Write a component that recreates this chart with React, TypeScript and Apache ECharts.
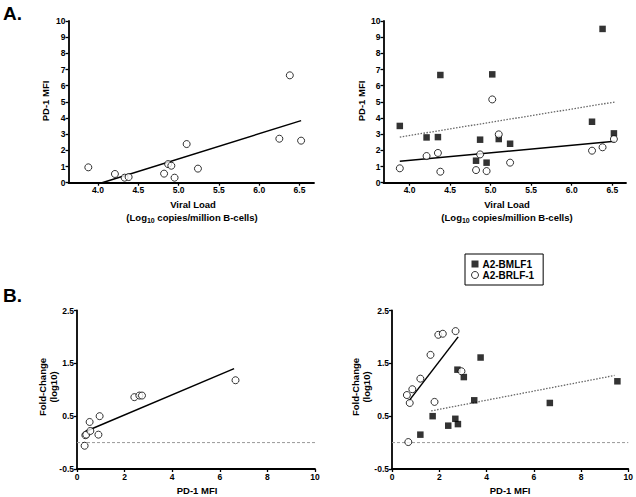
import React, { useEffect, useRef } from "react";
import * as echarts from "echarts";

// ---------- data ----------
const viralTicks = [4.0, 4.5, 5.0, 5.5, 6.0, 6.5];

// Panel A left: PD-1 MFI vs viral load
const aLeftX = [3.88, 4.21, 4.33, 4.38, 4.82, 4.87, 4.91, 4.95, 5.10, 5.24, 6.25, 6.38, 6.52];
const aLeftY = [0.95, 0.54, 0.31, 0.35, 0.56, 1.15, 1.05, 0.31, 2.39, 0.87, 2.72, 6.64, 2.60];
const aLeftFit = [[4.05, 0], [6.52, 3.84]];

// Panel A right
const aRightX = [3.88, 4.21, 4.35, 4.38, 4.82, 4.87, 4.95, 5.02, 5.10, 5.24, 6.25, 6.38, 6.52];
const aRightBMLF = [3.51, 2.80, 2.82, 6.66, 1.36, 2.66, 1.24, 6.70, 2.70, 2.41, 3.77, 9.51, 3.05];
const aRightBRLF = [0.89, 1.65, 1.84, 0.68, 0.78, 1.75, 0.72, 5.15, 2.99, 1.24, 1.98, 2.19, 2.70];
const aRightFitBRLF = [[3.88, 1.32], [6.53, 2.56]];
const aRightFitBMLF = [[3.88, 2.82], [6.53, 4.99]];

// Panel B left: fold-change vs PD-1 MFI
const bLeftX = [0.32, 0.35, 0.39, 0.53, 0.56, 0.90, 0.95, 2.41, 2.62, 2.73, 6.66];
const bLeftY = [-0.06, 0.14, 0.15, 0.39, 0.22, 0.15, 0.50, 0.86, 0.89, 0.89, 1.18];
const bLeftFit = [[0.35, 0.21], [6.6, 1.40]];

// Panel B right
const bRightBRLFX = [0.63, 0.69, 0.75, 0.86, 1.20, 1.63, 1.80, 1.96, 2.15, 2.69, 2.94];
const bRightBRLFY = [0.90, 0.01, 0.75, 1.01, 1.21, 1.66, 0.77, 2.04, 2.06, 2.11, 1.35];
const bRightBMLFX = [1.20, 1.72, 2.38, 2.68, 2.79, 2.77, 3.04, 3.48, 3.75, 6.68, 9.54];
const bRightBMLFY = [0.15, 0.50, 0.32, 0.45, 0.35, 1.38, 1.24, 0.80, 1.61, 0.75, 1.16];
const bRightFitBRLF = [[0.70, 0.78], [2.80, 2.0]];
const bRightFitBMLF = [[1.66, 0.60], [9.42, 1.27]];

const zeroLine = [[0, 0], [10, 0]];

const legendNames = ["A2-BMLF1", "A2-BRLF-1"];

// ---------- helpers ----------
const FONT = '"Liberation Sans", Arial, Helvetica, sans-serif';
const zip = (xs: number[], ys: number[]) => xs.map((x, i) => [x, ys[i]]);

const axisCommon = {
  axisLine: { show: true, onZero: false, lineStyle: { color: "#000", width: 1.8 } },
  axisTick: { show: true, inside: false, length: 3, lineStyle: { color: "#000", width: 1.3 } },
  splitLine: { show: false },
  axisLabel: { color: "#000", fontFamily: FONT, fontWeight: "bold", fontSize: 8.5, margin: 3 },
};

const viralXAxis = (gridIndex: number, min: number, max: number) => ({
  type: "value",
  gridIndex,
  min,
  max,
  ...axisCommon,
  axisTick: { ...axisCommon.axisTick, customValues: viralTicks },
  axisLabel: {
    ...axisCommon.axisLabel,
    customValues: viralTicks,
    formatter: (v: number) => v.toFixed(1),
  },
});

const mfiYAxis = (gridIndex: number) => ({
  type: "value",
  gridIndex,
  min: 0,
  max: 10,
  interval: 1,
  ...axisCommon,
});

const mfiXAxis = (gridIndex: number) => ({
  type: "value",
  gridIndex,
  min: 0,
  max: 10,
  interval: 2,
  ...axisCommon,
});

const foldYAxis = (gridIndex: number) => ({
  type: "value",
  gridIndex,
  min: -0.5,
  max: 2.5,
  interval: 1,
  ...axisCommon,
  axisLabel: { ...axisCommon.axisLabel, formatter: (v: number) => v.toFixed(1) },
});

const circleSeries = (name: string, idx: number, data: number[][]) => ({
  type: "scatter",
  name,
  xAxisIndex: idx,
  yAxisIndex: idx,
  data,
  symbol: "circle",
  symbolSize: 7,
  itemStyle: { color: "#fff", borderColor: "#000", borderWidth: 1 },
  z: 5,
  silent: true,
});

const squareSeries = (name: string, idx: number, data: number[][]) => ({
  type: "scatter",
  name,
  xAxisIndex: idx,
  yAxisIndex: idx,
  data,
  symbol: "rect",
  symbolSize: 6.5,
  itemStyle: { color: "#000" },
  z: 5,
  silent: true,
});

const lineSeries = (name: string, idx: number, data: number[][], style: any) => ({
  type: "line",
  name,
  xAxisIndex: idx,
  yAxisIndex: idx,
  data,
  symbol: "none",
  lineStyle: style,
  z: 3,
  silent: true,
});

const solid = { color: "#000", width: 1.5, type: "solid" };
const dotted = { color: "#666", width: 1.3, type: [1.5, 1.5] };
const zeroStyle = { color: "#999", width: 1, type: [3, 2] };

const titleText = (text: string, x: number, y: number, extra: any = {}) => ({
  type: "text",
  x,
  y,
  silent: true,
  style: {
    text,
    fill: "#000",
    fontFamily: FONT,
    fontWeight: "bold",
    fontSize: 9.5,
    align: "center",
    verticalAlign: "middle",
    ...extra,
  },
});

const rotText = (text: string, x: number, y: number) => ({
  ...titleText(text, x, y, { lineHeight: 11 }),
  rotation: Math.PI / 2,
});

const logLine = (x: number, y: number) =>
  titleText("(Log{s|10} copies/million B-cells)", x, y, {
    rich: {
      s: { fontSize: 7, fontWeight: "bold", fontFamily: FONT, padding: [6, 0, 0, 0] },
    },
  });

export default function App() {
  const ref = useRef<HTMLDivElement>(null);

  useEffect(() => {
    if (!ref.current) return;
    const chart = echarts.init(ref.current, undefined, { renderer: "svg" });
    const option: any = {
      animation: false,
      backgroundColor: "#fff",
      textStyle: { fontFamily: FONT },
      grid: [
        { left: 68.5, top: 21, width: 245.5, height: 161.7 },
        { left: 383.5, top: 21, width: 242.5, height: 161.7 },
        { left: 77, top: 310.5, width: 238, height: 158.5 },
        { left: 392, top: 310.5, width: 237, height: 158.5 },
      ],
      xAxis: [
        viralXAxis(0, 3.634, 6.68),
        viralXAxis(1, 3.679, 6.669),
        mfiXAxis(2),
        mfiXAxis(3),
      ],
      yAxis: [mfiYAxis(0), mfiYAxis(1), foldYAxis(2), foldYAxis(3)],
      legend: {
        left: 465,
        top: 254,
        orient: "vertical",
        borderColor: "#000",
        borderWidth: 1,
        padding: [5, 9, 5, 6],
        itemWidth: 7,
        itemHeight: 7,
        itemGap: 1,
        selectedMode: false,
        textStyle: { color: "#000", fontFamily: FONT, fontWeight: "bold", fontSize: 10, lineHeight: 10, padding: [0, 0, 0, -1] },
        data: [
          { name: legendNames[0], icon: "rect", itemStyle: { color: "#000" } },
          {
            name: legendNames[1],
            icon: "circle",
            itemStyle: { color: "#fff", borderColor: "#000", borderWidth: 1 },
          },
        ],
      },
      series: [
        lineSeries("fitA", 0, aLeftFit, solid),
        circleSeries("All", 0, zip(aLeftX, aLeftY)),

        lineSeries("fitA-BRLF", 1, aRightFitBRLF, solid),
        lineSeries("fitA-BMLF", 1, aRightFitBMLF, dotted),
        squareSeries(legendNames[0], 1, zip(aRightX, aRightBMLF)),
        circleSeries(legendNames[1], 1, zip(aRightX, aRightBRLF)),

        lineSeries("zeroB", 2, zeroLine, zeroStyle),
        lineSeries("fitB", 2, bLeftFit, solid),
        circleSeries("AllB", 2, zip(bLeftX, bLeftY)),

        lineSeries("zeroB2", 3, zeroLine, zeroStyle),
        lineSeries("fitB-BRLF", 3, bRightFitBRLF, solid),
        lineSeries("fitB-BMLF", 3, bRightFitBMLF, dotted),
        squareSeries(legendNames[0], 3, zip(bRightBMLFX, bRightBMLFY)),
        circleSeries(legendNames[1], 3, zip(bRightBRLFX, bRightBRLFY)),
      ],
      graphic: [
        titleText("A.", 3, 13, { align: "left", fontSize: 19 }),
        titleText("B.", 3, 295, { align: "left", fontSize: 19 }),

        titleText("Viral Load", 193, 204),
        logLine(192, 217),
        titleText("Viral Load", 507, 204),
        logLine(507, 217),

        rotText("PD-1 MFI", 45, 101),
        rotText("PD-1 MFI", 361, 101),

        rotText("Fold-Change\n(log10)", 48, 387),
        rotText("Fold-Change\n(log10)", 360.5, 387),

        titleText("PD-1 MFI", 197, 490),
        titleText("PD-1 MFI", 510, 490),
      ],
    };
    chart.setOption(option);
    return () => chart.dispose();
  }, []);

  return <div ref={ref} style={{ width: 636, height: 497, position: "absolute", left: 0, top: 0 }} />;
}
